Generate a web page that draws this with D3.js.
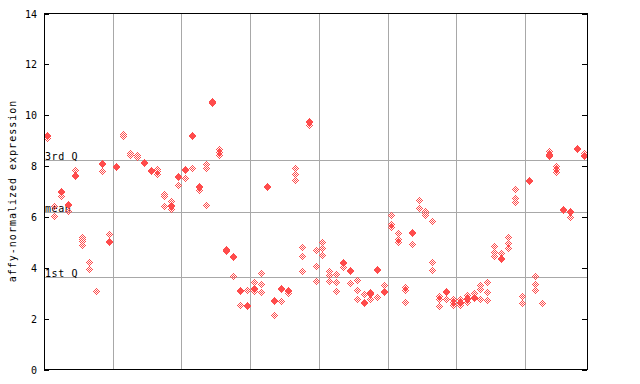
<!DOCTYPE html>
<html><head><meta charset="utf-8">
<script src="https://cdn.jsdelivr.net/npm/d3@7"></script>
<style>body{margin:0;background:#fff}svg{display:block}</style>
</head><body><svg id="c" width="640" height="384"></svg>
<script>
// ---- data ----
const groupSizes = [10, 10, 10, 10, 10, 10, 10, 9];
const sampleValues = [
  // group 1
  [9.19, 9.15, 9.08], [6.4, 6.02], [7.0, 6.96, 6.81], [6.49, 6.45, 6.21], [7.81, 7.63, 7.59],
  [5.19, 5.11, 5.03, 4.88], [4.21, 3.93], [3.07], [8.11, 8.07, 7.79], [5.32, 5.04, 5.0],
  // group 2
  [8.0, 7.96], [9.25, 9.15], [8.48, 8.43], [8.4, 8.35], [8.15, 8.1],
  [7.82, 7.77], [7.88, 7.78, 7.68], [6.9, 6.82, 6.42], [6.62, 6.44, 6.4, 6.29], [7.6, 7.56, 7.25],
  // group 3
  [7.85, 7.81, 7.53], [9.19, 9.15, 7.9], [7.2, 7.16, 7.03], [8.06, 7.92, 6.45], [10.54, 10.5, 10.46],
  [8.65, 8.53, 8.4], [4.72, 4.68, 4.64], [4.45, 4.41, 3.66], [3.1, 3.06, 2.52], [3.11, 2.52, 2.48],
  // group 4
  [3.43, 3.2, 3.16, 3.07], [3.78, 3.34, 3.03], [7.2, 7.16], [2.72, 2.68, 2.12], [3.19, 3.15, 2.69],
  [3.12, 3.05, 2.98], [7.9, 7.67, 7.44], [4.8, 4.44, 3.85], [9.76, 9.72, 9.6], [4.68, 4.05, 3.46],
  // group 5
  [5.0, 4.76, 4.48], [3.85, 3.7, 3.46], [3.74, 3.42, 3.07], [4.21, 4.17, 4.01], [3.9, 3.86, 3.38],
  [3.5, 3.11, 2.75], [2.95, 2.64, 2.6], [3.03, 2.97, 2.93, 2.75], [3.94, 3.9, 2.83], [3.3, 3.06, 3.02],
  // group 6
  [6.05, 5.7, 5.6], [5.35, 5.11, 5.0], [3.22, 3.09, 2.63], [5.39, 5.35, 4.92], [6.65, 6.33],
  [6.23, 6.13, 6.06], [5.82, 4.21, 3.89], [2.86, 2.75, 2.48], [3.06, 3.02, 2.75], [2.75, 2.64, 2.52],
  // group 7
  [2.76, 2.65, 2.61, 2.52], [2.9, 2.81, 2.77, 2.64], [2.99, 2.84, 2.8], [3.31, 3.15, 2.75], [3.42, 3.03, 2.71],
  [4.84, 4.62, 4.44], [4.56, 4.37, 4.33], [5.19, 4.95, 4.76], [7.08, 6.72, 6.57], [2.87, 2.6],
  // group 8
  [7.44, 7.4], [3.66, 3.35, 3.11], [2.6], [8.57, 8.47, 8.43, 8.36], [7.99, 7.86, 7.75],
  [6.31, 6.27], [6.23, 6.19, 5.98], [8.69, 8.65], [8.5, 8.42, 8.38]
];
const yTicks = [0, 2, 4, 6, 8, 10, 12, 14];
const refLabels = ["3rd Q", "mean", "1st Q"];
const refValues = [8.22, 6.21, 3.62];
const yTitle = "affy-normalized expression";

// ---- layout ----
const L = 44, R = 587, T = 13, B = 369;
const red = "#ff4c4c", grid = "#a8a8a8";
const svg = d3.select("#c");
const sampleIdx = d3.range(sampleValues.length);
const x = d3.scaleBand().domain(sampleIdx).range([L, R]).padding(0);
const y = d3.scaleLinear().domain([0, 14]).range([B + 0.5, T + 0.5]);

// group boundaries
const bounds = [];
let acc = 0;
groupSizes.slice(0, -1).forEach(s => { acc += s; bounds.push(acc); });
svg.append("g").selectAll("line").data(bounds).join("line")
  .attr("x1", d => Math.round(x(d)) + 0.5).attr("x2", d => Math.round(x(d)) + 0.5)
  .attr("y1", T).attr("y2", B)
  .attr("stroke", grid).attr("stroke-width", 1);

// reference lines
svg.append("g").selectAll("line").data(refValues).join("line")
  .attr("x1", L).attr("x2", R)
  .attr("y1", d => Math.round(y(d)) + 0.5).attr("y2", d => Math.round(y(d)) + 0.5)
  .attr("stroke", grid).attr("stroke-width", 1);

svg.append("g").selectAll("text").data(refLabels).join("text")
  .attr("x", L + 1).attr("y", (d, i) => Math.round(y(refValues[i])) - 0.5)
  .attr("font-family", "DejaVu Sans Mono, monospace").attr("font-size", 10)
  .attr("letter-spacing", 0.6).attr("fill", "#000").text(d => d);

// points: dithered diamond glyph
function glyph(cx, cy) {
  let p = "";
  for (let dy = -3; dy <= 3; dy++) {
    for (let dx = -3; dx <= 3; dx++) {
      const d = Math.abs(dx) + Math.abs(dy);
      if (d <= 3 && d % 2 === 1) p += `M${cx + dx},${cy + dy}h1v1h-1Z`;
    }
  }
  return p;
}
const pts = [];
sampleValues.forEach((vals, i) => vals.forEach(v => pts.push({ i, v })));
svg.append("g").selectAll("path").data(pts).join("path")
  .attr("d", d => glyph(Math.round(x(d.i) + x.bandwidth() / 2), Math.floor(y(d.v))))
  .attr("fill", red).attr("shape-rendering", "crispEdges");

// frame
svg.append("rect").attr("x", L + 0.5).attr("y", T + 0.5)
  .attr("width", R - L).attr("height", B - T)
  .attr("fill", "none").attr("stroke", "#000").attr("stroke-width", 1);

// left axis (ticks inward)
const yl = svg.append("g");
yl.selectAll("line").data(yTicks).join("line")
  .attr("x1", L).attr("x2", L + 5)
  .attr("y1", d => Math.round(y(d)) + 0.5).attr("y2", d => Math.round(y(d)) + 0.5)
  .attr("stroke", "#000");
yl.selectAll("text").data(yTicks).join("text")
  .attr("x", 37).attr("y", d => Math.round(y(d)) + 4)
  .attr("text-anchor", "end")
  .attr("font-family", "DejaVu Sans Mono, monospace").attr("font-size", 10)
  .attr("fill", "#000").text(d => d);
// right axis ticks (inward)
svg.append("g").selectAll("line").data(yTicks).join("line")
  .attr("x1", R - 5).attr("x2", R)
  .attr("y1", d => Math.round(y(d)) + 0.5).attr("y2", d => Math.round(y(d)) + 0.5)
  .attr("stroke", "#000");

// y title
svg.append("text")
  .attr("transform", `translate(16,${(T + B) / 2}) rotate(-90)`)
  .attr("text-anchor", "middle")
  .attr("font-family", "DejaVu Sans Mono, monospace").attr("font-size", 10)
  .attr("letter-spacing", 1).attr("fill", "#000").text(yTitle);
</script></body></html>
